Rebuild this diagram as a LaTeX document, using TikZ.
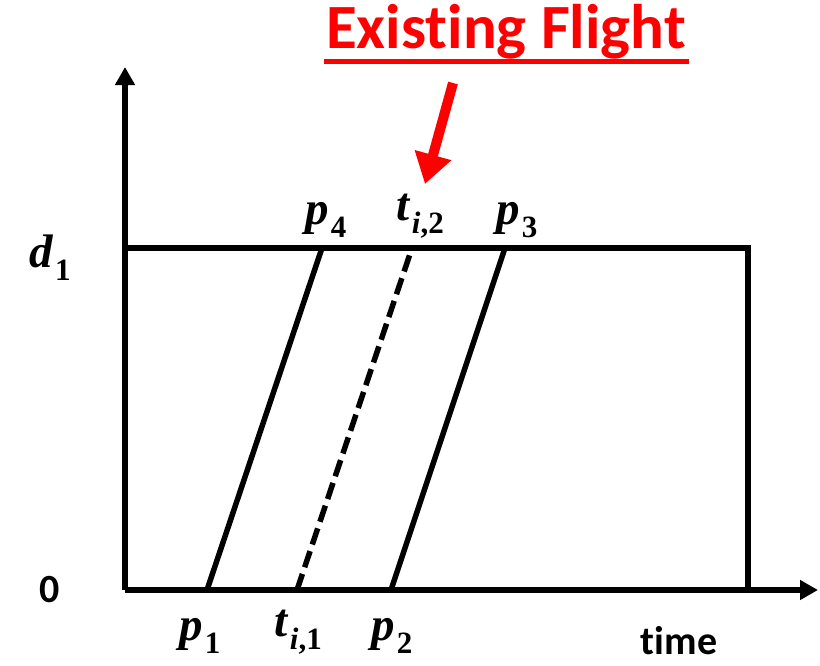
\documentclass[tikz,border=0pt]{standalone}
\usepackage{fontspec}
\newfontfamily\carlito{Carlito}[Ligatures=NoCommon]
\newfontfamily\labfont{Liberation Serif}
\usetikzlibrary{arrows.meta}
\definecolor{flightred}{RGB}{255,0,0}
\newcommand\labsub[1]{\raisebox{-0.27em}{\fontsize{31}{34}\selectfont #1}}
\newcommand\labvar[2]{\textit{#1}\kern1.5pt\labsub{#2}}
\tikzset{
  axis/.style={line width=5.5pt, -{Triangle[length=18pt,width=19pt]}},
  frame/.style={line width=5.5pt},
  path line/.style={line width=5.5pt},
  dashpath/.style={line width=5.5pt, dash pattern=on 17pt off 7pt},
  mlabel/.style={inner sep=0pt, font=\labfont\bfseries\fontsize{47}{52}\selectfont},
  slabel/.style={inner sep=0pt, font=\carlito\bfseries\fontsize{40}{48}\selectfont},
  title/.style={inner sep=0pt, text=flightred, font=\carlito\bfseries\fontsize{63}{70}\selectfont},
}
\begin{document}
\begin{tikzpicture}[x=1pt,y=-1pt]
\useasboundingbox (0,0) rectangle (820,665);
% axes
\coordinate (O) at (125,590);
\coordinate (ytip) at (125,67);
\coordinate (xtip) at (818,590);
\draw[axis] (O) -- (ytip);
\draw[axis] (O) -- (xtip);
% frame
\coordinate (TL) at (125,248);
\coordinate (TR) at (748,248);
\coordinate (BR) at (748,590);
\draw[frame, line cap=rect] (TL) -- (TR) -- (BR);
% flight paths
\coordinate (a1) at (207,590); \coordinate (a2) at (322,248);
\coordinate (b1) at (297,590); \coordinate (b2) at (412,248);
\coordinate (c1) at (391,590); \coordinate (c2) at (505,248);
\draw[path line] (a1) -- (a2);
\draw[dashpath] (b1) -- (b2);
\draw[path line] (c1) -- (c2);
% labels
\node[mlabel] (d1) at (50,258) {\labvar{d}{1}};
\node[slabel] (zero) at (50,590) {0};
\node[mlabel] (p1) at (200,636) {\labvar{p}{1}};
\node[mlabel] (ti1) at (298,632) {\labvar{t}{\textit{i},1}};
\node[mlabel] (p2) at (392,636) {\labvar{p}{2}};
\node[mlabel] (p4) at (326,220) {\labvar{p}{4}};
\node[mlabel] (ti2) at (420,216) {\labvar{t}{\textit{i},2}};
\node[mlabel] (p3) at (517,220) {\labvar{p}{3}};
\node[slabel] (time) at (679,641) {time};
% title
\node[title] (ttl) at (506,32) {Existing Flight};
\coordinate (u1) at (324,61); \coordinate (u2) at (689,61);
\draw[flightred, line width=5pt] (u1) -- (u2);
% red arrow
\coordinate (r1) at (453,83);
\coordinate (r2) at (425,184);
\draw[flightred, line width=10pt, -{Triangle[length=30pt,width=36pt]}] (r1) -- (r2);
\end{tikzpicture}
\end{document}
